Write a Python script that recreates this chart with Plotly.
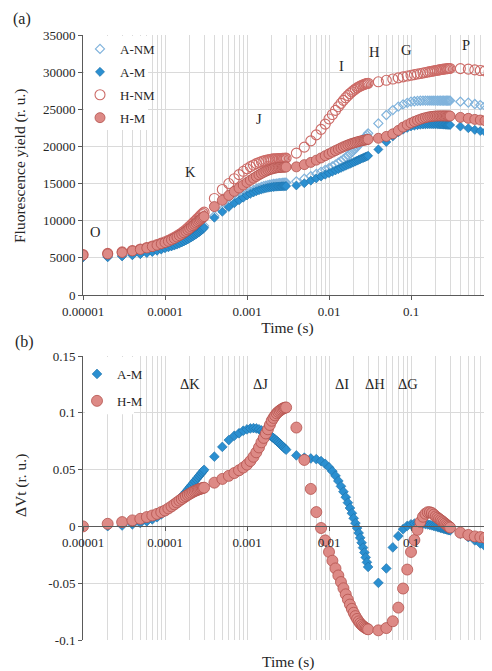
import math
import plotly.graph_objects as go

# ---------------- data ----------------
time_s = [
    0.00001, 0.00002, 0.00003, 0.00004, 0.00005, 0.00006, 0.00007, 0.00008, 0.00009, 0.0001,
    0.00011, 0.00012, 0.00013, 0.00014, 0.00015, 0.00016, 0.00017, 0.00018, 0.00019, 0.0002,
    0.00021, 0.00022, 0.00023, 0.00024, 0.00025, 0.00026, 0.00027, 0.00028, 0.00029, 0.0003,
    0.0004, 0.0005, 0.0006, 0.0007, 0.0008, 0.0009, 0.001, 0.0011, 0.0012, 0.0013, 0.0014,
    0.0015, 0.0016, 0.0017, 0.0018, 0.0019, 0.002, 0.0021, 0.0022, 0.0023, 0.0024, 0.0025,
    0.0026, 0.0027, 0.0028, 0.0029, 0.003,
    0.004, 0.005, 0.006, 0.007, 0.008, 0.009, 0.01, 0.011, 0.012, 0.013, 0.014, 0.015, 0.016,
    0.017, 0.018, 0.019, 0.02, 0.021, 0.022, 0.023, 0.024, 0.025, 0.026, 0.027, 0.028, 0.029, 0.03,
    0.04, 0.05, 0.06, 0.07, 0.08, 0.09, 0.1, 0.11, 0.12, 0.13, 0.14, 0.15, 0.16, 0.17, 0.18,
    0.19, 0.2, 0.21, 0.22, 0.23, 0.24, 0.25, 0.26, 0.27, 0.28, 0.29, 0.3,
    0.4, 0.5, 0.6, 0.7, 0.8, 0.9, 1.0,
]

a_nm = [
    5150, 5180, 5300, 5450, 5600, 5760, 5920, 6080, 6240, 6420, 6550, 6680, 6810, 6950, 7090,
    7230, 7370, 7510, 7650, 7800, 7950, 8100, 8250, 8400, 8550, 8700, 8850, 9000, 9150, 9300,
    10650, 11450, 12100, 12620, 13030, 13380, 13680, 13910, 14110, 14280, 14420, 14540, 14640,
    14720, 14790, 14850, 14900, 14940, 14970, 15000, 15020, 15040, 15060, 15080, 15100, 15120, 15140,
    15300, 15650, 16000, 16300, 16580, 16840, 17080, 17320, 17560, 17800, 18040, 18280, 18520,
    18760, 19000, 19240, 19480, 19720, 19960, 20200, 20430, 20660, 20880, 21100, 21320, 21540, 21760,
    23100, 24230, 24900, 25350, 25650, 25870, 26020, 26080, 26120, 26150, 26160, 26170, 26170,
    26170, 26170, 26170, 26160, 26160, 26160, 26160, 26160, 26160, 26160, 26160, 26160, 26160, 26160,
    26020, 25890, 25710, 25570, 25440, 25350, 25250,
]

a_m = [
    5070, 5080, 5200, 5350, 5500, 5650, 5800, 5960, 6120, 6300, 6420, 6540, 6660, 6790, 6930,
    7070, 7210, 7350, 7490, 7630, 7770, 7910, 8050, 8190, 8330, 8470, 8610, 8750, 8890, 9050,
    10400, 11200, 11850, 12350, 12750, 13100, 13400, 13620, 13810, 13970, 14100, 14210, 14300,
    14370, 14430, 14480, 14520, 14550, 14570, 14590, 14600, 14610, 14620, 14630, 14640, 14650, 14660,
    14750, 15050, 15400, 15700, 15950, 16200, 16400, 16600, 16780, 16950, 17110, 17260, 17400,
    17530, 17650, 17770, 17880, 17990, 18090, 18190, 18280, 18370, 18450, 18530, 18600, 18670, 18740,
    19600, 20600, 21350, 21900, 22250, 22500, 22700, 22800, 22870, 22920, 22950, 22970, 22980,
    22990, 22990, 22990, 22990, 22980, 22970, 22960, 22950, 22940, 22930, 22920, 22910, 22900, 22890,
    22680, 22450, 22230, 22070, 21940, 21800, 21700,
]

h_nm = [
    5450, 5600, 5800, 6000, 6200, 6400, 6600, 6800, 6980, 7160, 7360, 7560, 7760, 7960, 8160,
    8370, 8580, 8800, 9020, 9250, 9470, 9690, 9900, 10100, 10300, 10490, 10670, 10840, 11000, 11150,
    13000, 14200, 15000, 15650, 16200, 16650, 17000, 17280, 17500, 17690, 17840, 17960, 18060,
    18140, 18200, 18250, 18290, 18320, 18340, 18350, 18360, 18370, 18380, 18390, 18400, 18410, 18430,
    19100, 19900, 20750, 21550, 22300, 23000, 23700, 24300, 24850, 25350, 25800, 26200, 26550,
    26850, 27120, 27350, 27550, 27730, 27880, 28010, 28120, 28210, 28290, 28360, 28420, 28470, 28510,
    28700, 28900, 29080, 29230, 29360, 29480, 29580, 29670, 29750, 29820, 29890, 29950, 30010,
    30070, 30120, 30170, 30220, 30260, 30300, 30340, 30370, 30400, 30430, 30450, 30470, 30490, 30500,
    30480, 30400, 30300, 30220, 30160, 30100, 30050,
]

h_m = [
    5380, 5520, 5720, 5930, 6130, 6330, 6520, 6700, 6880, 7050, 7230, 7420, 7610, 7800, 7990,
    8180, 8370, 8560, 8760, 8960, 9150, 9330, 9510, 9690, 9860, 10020, 10170, 10310, 10440, 10560,
    11900, 12750, 13400, 13950, 14400, 14800, 15150, 15450, 15720, 15960, 16170, 16360, 16520,
    16660, 16780, 16880, 16960, 17030, 17080, 17120, 17150, 17170, 17190, 17200, 17210, 17220, 17230,
    17250, 17550, 17850, 18150, 18450, 18750, 19000, 19230, 19440, 19630, 19800, 19950, 20080,
    20200, 20300, 20390, 20470, 20540, 20600, 20660, 20710, 20760, 20800, 20840, 20880, 20910, 20950,
    21100, 21350, 21700, 22150, 22600, 22900, 23150, 23350, 23520, 23660, 23780, 23870, 23940,
    24000, 24040, 24070, 24090, 24100, 24110, 24110, 24110, 24110, 24110, 24100, 24100, 24100, 24090,
    23910, 23780, 23640, 23550, 23460, 23330, 23250,
]

dvt_a_m = [
    0.0, 0.0002, 0.0008, 0.0018, 0.003, 0.0045, 0.0062, 0.0081, 0.0105, 0.013, 0.0152, 0.0174,
    0.0196, 0.0218, 0.024, 0.0262, 0.0283, 0.0304, 0.0325, 0.0345, 0.0363, 0.038, 0.0397, 0.0413,
    0.0429, 0.0444, 0.0458, 0.0472, 0.0485, 0.0498,
    0.0614, 0.070, 0.076, 0.0798, 0.082, 0.0842, 0.0854, 0.0862, 0.0865, 0.0862, 0.0855, 0.0845,
    0.0836, 0.0826, 0.0815, 0.0803, 0.079, 0.0778, 0.0766, 0.0754, 0.0742, 0.073, 0.0718, 0.0707,
    0.0696, 0.0685, 0.0675,
    0.0625, 0.0605, 0.0598, 0.0592, 0.0575, 0.055, 0.052, 0.0485, 0.0445, 0.040, 0.0353, 0.0305,
    0.0257, 0.0209, 0.0162, 0.0116, 0.0071, 0.0028, -0.0015, -0.0058, -0.0101, -0.0144, -0.0187,
    -0.023, -0.0273, -0.0316, -0.0357,
    -0.0497, -0.037, -0.0185, -0.0085, -0.0025, 0.0005, 0.0018, 0.0024, 0.0026, 0.0026, 0.0024,
    0.0021, 0.0017, 0.0013, 0.0009, 0.0004, 0.0, -0.0004, -0.0008, -0.0012, -0.0016, -0.002,
    -0.0023, -0.0026, -0.0029, -0.0032, -0.0035,
    -0.0064, -0.0094, -0.0123, -0.015, -0.0175, -0.0198, -0.022,
]

dvt_h_m = [
    0.0, 0.0023, 0.0038, 0.0053, 0.0067, 0.0082, 0.0096, 0.011, 0.0126, 0.014, 0.0158, 0.0176,
    0.0194, 0.0211, 0.0227, 0.0241, 0.0254, 0.0266, 0.0277, 0.0287, 0.0296, 0.0304, 0.0311, 0.0317,
    0.0322, 0.0327, 0.0331, 0.0335, 0.0338, 0.0341,
    0.0385, 0.0418, 0.0445, 0.047, 0.0494, 0.0518, 0.0544, 0.0576, 0.0613, 0.0652, 0.0695, 0.074,
    0.0779, 0.0818, 0.0855, 0.0893, 0.093, 0.0955, 0.0977, 0.0995, 0.1008, 0.1018, 0.1027, 0.1035,
    0.1041, 0.1045, 0.1047,
    0.087, 0.0585, 0.033, 0.0126, -0.0014, -0.0123, -0.0225, -0.0302, -0.037, -0.0432, -0.049,
    -0.0545, -0.0598, -0.0645, -0.0688, -0.0726, -0.076, -0.079, -0.0815, -0.0836, -0.0853,
    -0.0867, -0.0878, -0.0887, -0.0895, -0.0901, -0.0906,
    -0.0915, -0.0895, -0.0835, -0.0715, -0.0547, -0.038, -0.0225, -0.012, -0.003, 0.004, 0.0085,
    0.0112, 0.0125, 0.0125, 0.0118, 0.0104, 0.0088, 0.0077, 0.0066, 0.0055, 0.0045, 0.0035,
    0.0025, 0.0015, 0.0006, -0.0002, -0.001,
    -0.0055, -0.0075, -0.0088, -0.0094, -0.01, -0.0108, -0.0115,
]

x_tickvals = [0.00001, 0.0001, 0.001, 0.01, 0.1]
x_ticktext = ["0.00001", "0.0001", "0.001", "0.01", "0.1"]
ya_tickvals = [0, 5000, 10000, 15000, 20000, 25000, 30000, 35000]
ya_ticktext = ["0", "5000", "10000", "15000", "20000", "25000", "30000", "35000"]
yb_tickvals = [-0.1, -0.05, 0, 0.05, 0.1, 0.15]
yb_ticktext = ["-0.1", "-0.05", "0", "0.05", "0.1", "0.15"]

phase_a = ["O", "K", "J", "I", "H", "G", "P"]
phase_a_t = [0.0000140, 0.000202, 0.00140, 0.0144, 0.0354, 0.0893, 0.469]
phase_a_v = [8500, 16600, 23700, 30800, 32700, 33000, 33600]
phase_b = ["ΔK", "ΔJ", "ΔI", "ΔH", "ΔG"]
phase_b_t = [0.000202, 0.00145, 0.0144, 0.0368, 0.0916]
phase_b_v = [0.1255, 0.1255, 0.1255, 0.1255, 0.1255]

# ---------------- layout helpers (page pixels; page body has an 8px margin) ----------------
OFF = 8
W, H = 492 - OFF, 671 - OFF
PL, PR = 83, 492
A_TOP, A_BOT = 35, 295
B_TOP, B_BOT = 356, 640
B_ZERO = 526
DEC = 82.0  # pixels per decade


def px_x(p):
    return (p - OFF) / W


def px_y(p):
    return 1 - (p - OFF) / H


def px_t(p):
    return 10 ** (-5 + (p - PL) / DEC)


FONT = "Liberation Serif, Times New Roman, serif"
TXT = "#262626"
GRID = "#dadada"
AXIS = "#5a5a5a"

BLUE = "#2b8fd0"
BLUE_EDGE = "#1d6ea6"
BLUE_LIGHT = "#80b3dc"
RED = "#dd8a86"
RED_EDGE = "#b4524d"
RED_OPEN = "#cc6a66"

minor_vals = [m * 10.0 ** e for e in range(-5, 0) for m in range(2, 10)]

fig = go.Figure()

fig.add_trace(go.Scatter(x=time_s, y=a_nm, mode="markers", name="A-NM",
                         xaxis="x", yaxis="y", legend="legend", legendgroup="1",
                         marker=dict(symbol="diamond-open", size=7, color=BLUE_LIGHT,
                                     line=dict(width=1.2, color=BLUE_LIGHT))))
fig.add_trace(go.Scatter(x=time_s, y=a_m, mode="markers", name="A-M",
                         xaxis="x", yaxis="y", legend="legend", legendgroup="2",
                         marker=dict(symbol="diamond", size=7, color=BLUE,
                                     line=dict(width=0.6, color=BLUE_EDGE))))
fig.add_trace(go.Scatter(x=time_s, y=h_nm, mode="markers", name="H-NM",
                         xaxis="x", yaxis="y", legend="legend", legendgroup="3",
                         marker=dict(symbol="circle-open", size=10, color=RED_OPEN,
                                     line=dict(width=1.1, color=RED_OPEN))))
fig.add_trace(go.Scatter(x=time_s, y=h_m, mode="markers", name="H-M",
                         xaxis="x", yaxis="y", legend="legend", legendgroup="4",
                         marker=dict(symbol="circle", size=10, color=RED,
                                     line=dict(width=0.8, color=RED_EDGE))))

fig.add_trace(go.Scatter(x=time_s, y=dvt_a_m, mode="markers", name="A-M",
                         xaxis="x2", yaxis="y2", legend="legend2", legendgroup="5",
                         marker=dict(symbol="diamond", size=7.5, color=BLUE,
                                     line=dict(width=0.6, color=BLUE_EDGE))))
fig.add_trace(go.Scatter(x=time_s, y=dvt_h_m, mode="markers", name="H-M",
                         xaxis="x2", yaxis="y2", legend="legend2", legendgroup="6",
                         marker=dict(symbol="circle", size=11, color=RED,
                                     line=dict(width=0.8, color=RED_EDGE))))

log_range = [-5, -5 + (PR - PL) / DEC]
x_common = dict(type="log", range=log_range, tickmode="array", tickvals=x_tickvals,
                ticktext=x_ticktext, showgrid=True, gridcolor=GRID, gridwidth=1,
                showline=True, linecolor=AXIS, linewidth=1, ticks="outside", ticklen=4,
                tickcolor=AXIS, tickfont=dict(family=FONT, size=13, color=TXT),
                minor=dict(tickmode="array", tickvals=minor_vals, showgrid=True,
                           gridcolor=GRID, gridwidth=1, ticks=""),
                zeroline=False, automargin=False, domain=[px_x(PL), 1])

fig.update_layout(
    width=W, height=H,
    margin=dict(l=0, r=0, t=0, b=0),
    paper_bgcolor="white", plot_bgcolor="white",
    font=dict(family=FONT, color=TXT),
    xaxis=dict(**x_common, anchor="y",
               title=dict(text="Time (s)", font=dict(family=FONT, size=15.5, color=TXT),
                          standoff=4)),
    yaxis=dict(domain=[px_y(A_BOT), px_y(A_TOP)], range=[0, 35000], anchor="x",
               tickmode="array", tickvals=ya_tickvals, ticktext=ya_ticktext,
               showgrid=True, gridcolor=GRID, showline=True, linecolor=AXIS, linewidth=1,
               ticks="outside", ticklen=4, tickcolor=AXIS, zeroline=False,
               tickfont=dict(family=FONT, size=13, color=TXT), automargin=False),
    xaxis2=dict(**x_common, anchor="free", position=px_y(B_ZERO)),
    yaxis2=dict(domain=[px_y(B_BOT), px_y(B_TOP)], range=[-0.1, 0.15], anchor="x2",
                tickmode="array", tickvals=yb_tickvals, ticktext=yb_ticktext,
                showgrid=True, gridcolor=GRID, showline=True, linecolor=AXIS, linewidth=1,
                ticks="outside", ticklen=4, tickcolor=AXIS, zeroline=False,
                tickfont=dict(family=FONT, size=13, color=TXT), automargin=False),
    legend=dict(x=px_x(80), y=px_y(34), xanchor="left", yanchor="top",
                bgcolor="rgba(0,0,0,0)", font=dict(family=FONT, size=13, color=TXT),
                tracegroupgap=3, itemclick=False),
    legend2=dict(x=px_x(77), y=px_y(359), xanchor="left", yanchor="top",
                 bgcolor="rgba(0,0,0,0)", font=dict(family=FONT, size=13, color=TXT),
                 tracegroupgap=7, itemclick=False),
    shapes=[
        dict(type="rect", xref="x", yref="y",
             x0=px_t(84), x1=px_t(148),
             y0=(A_BOT - 130) / (A_BOT - A_TOP) * 35000, y1=(A_BOT - 36) / (A_BOT - A_TOP) * 35000,
             fillcolor="white", line=dict(width=0), layer="between"),
        dict(type="rect", xref="x2", yref="y2",
             x0=px_t(85), x1=px_t(134),
             y0=(B_ZERO - 414) / (B_ZERO - B_TOP) * 0.15, y1=(B_ZERO - 357) / (B_ZERO - B_TOP) * 0.15,
             fillcolor="white", line=dict(width=0), layer="between"),
    ],
)

annotations = []
for txt, t, v in zip(phase_a, phase_a_t, phase_a_v):
    annotations.append(dict(x=math.log10(t), y=v, xref="x", yref="y", text=txt,
                            xanchor="center", yanchor="middle",
                            showarrow=False, font=dict(family=FONT, size=14.5, color=TXT)))
for txt, t, v in zip(phase_b, phase_b_t, phase_b_v):
    annotations.append(dict(x=math.log10(t), y=v, xref="x2", yref="y2", text=txt,
                            xanchor="center", yanchor="middle",
                            showarrow=False, font=dict(family=FONT, size=14.5, color=TXT)))

annotations += [
    dict(x=px_x(22), y=px_y(19), xref="paper", yref="paper", text="(a)", showarrow=False,
         xanchor="center", yanchor="middle", font=dict(family=FONT, size=16, color=TXT)),
    dict(x=px_x(24), y=px_y(342), xref="paper", yref="paper", text="(b)", showarrow=False,
         xanchor="center", yanchor="middle", font=dict(family=FONT, size=16, color=TXT)),
    dict(x=px_x(20), y=px_y(166), xref="paper", yref="paper", text="Fluorescence yield (r. u.)",
         xanchor="center", yanchor="middle",
         textangle=-90, showarrow=False, font=dict(family=FONT, size=15.5, color=TXT)),
    dict(x=px_x(21), y=px_y(486), xref="paper", yref="paper", text="ΔVt (r. u.)",
         xanchor="center", yanchor="middle",
         textangle=-90, showarrow=False, font=dict(family=FONT, size=15.5, color=TXT)),
    dict(x=px_x(288), y=px_y(662), xref="paper", yref="paper", text="Time (s)",
         xanchor="center", yanchor="middle",
         showarrow=False, font=dict(family=FONT, size=15.5, color=TXT)),
]
fig.update_layout(annotations=annotations)

fig.write_html("out.html")
